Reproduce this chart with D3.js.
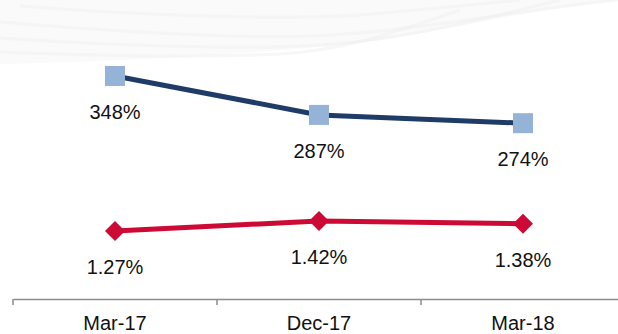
<!DOCTYPE html>
<html>
<head>
<meta charset="utf-8">
<script src="https://cdn.jsdelivr.net/npm/d3@7/dist/d3.min.js"></script>
<style>
  html, body { margin: 0; padding: 0; background: #fff; }
  svg { display: block; }
  text { font-family: "Liberation Sans", Arial, sans-serif; }
</style>
</head>
<body>
<script>
const categories = ["Mar-17", "Dec-17", "Mar-18"];
const blueValues = [348, 287, 274];
const blueLabels = ["348%", "287%", "274%"];
const redValues = [1.27, 1.42, 1.38];
const redLabels = ["1.27%", "1.42%", "1.38%"];

const W = 618, H = 334;
const svg = d3.select("body").append("svg").attr("width", W).attr("height", H);

// faint decorative swoosh background
const bg = svg.append("g");
bg.append("path")
  .attr("d", "M0,0 L618,0 C520,10 420,38 330,46 C220,56 100,62 0,64 Z")
  .attr("fill", "#f6f6f6").attr("fill-opacity", 0.6);
const swooshes = [
  "M0,22 C120,32 250,40 330,35 C420,30 520,10 618,0",
  "M0,38 C120,46 250,50 320,45 C400,40 480,20 560,0",
  "M0,52 C100,56 200,58 280,54 C350,50 400,30 460,10",
  "M20,6 C150,16 280,20 360,15 C420,10 470,5 520,0"
];
swooshes.forEach((d, i) => {
  bg.append("path").attr("d", d).attr("fill", "none")
    .attr("stroke", "#efefef").attr("stroke-width", 3)
    .attr("stroke-opacity", 0.5);
});

const x = d3.scaleBand().domain(categories).range([13, 625]);
const yBlue = d3.scaleLinear().domain([0, 400]).range([298, 42.8]);
const yRed = d3.scaleLinear().domain([1.0, 2.0]).range([249, 182.3]);

// axis
const axis = d3.axisBottom(x).tickSize(0).tickFormat("");
const ax = svg.append("g").attr("transform", "translate(0,299)").call(axis);
ax.select(".domain").attr("stroke", "#8c8c8c").attr("stroke-width", 1.5);
const bounds = categories.map(c => x(c));
svg.append("g").selectAll("line").data(bounds).join("line")
  .attr("x1", d => d).attr("x2", d => d)
  .attr("y1", 299).attr("y2", 305)
  .attr("stroke", "#8c8c8c").attr("stroke-width", 1.5);
svg.append("g").selectAll("text").data(categories).join("text")
  .attr("x", d => x(d) + x.bandwidth() / 2)
  .attr("y", 330)
  .attr("text-anchor", "middle")
  .attr("font-size", "20px")
  .attr("fill", "#111")
  .text(d => d);

const cx = d => x(d) + x.bandwidth() / 2;

// blue series
const blueData = categories.map((c, i) => ({c, v: blueValues[i], l: blueLabels[i]}));
svg.append("path").datum(blueData)
  .attr("fill", "none").attr("stroke", "#1f3b68").attr("stroke-width", 5)
  .attr("d", d3.line().x(d => cx(d.c)).y(d => yBlue(d.v)));
svg.append("g").selectAll("rect").data(blueData).join("rect")
  .attr("x", d => cx(d.c) - 10).attr("y", d => yBlue(d.v) - 10)
  .attr("width", 20).attr("height", 20)
  .attr("fill", "#95b3d7");
svg.append("g").selectAll("text").data(blueData).join("text")
  .attr("x", d => cx(d.c)).attr("y", d => yBlue(d.v) + 43)
  .attr("text-anchor", "middle").attr("font-size", "20px").attr("fill", "#111")
  .text(d => d.l);

// red series
const redData = categories.map((c, i) => ({c, v: redValues[i], l: redLabels[i]}));
svg.append("path").datum(redData)
  .attr("fill", "none").attr("stroke", "#cc0a35").attr("stroke-width", 5)
  .attr("d", d3.line().x(d => cx(d.c)).y(d => yRed(d.v)));
svg.append("g").selectAll("path").data(redData).join("path")
  .attr("transform", d => `translate(${cx(d.c)},${yRed(d.v)})`)
  .attr("d", "M0,-10 L10,0 L0,10 L-10,0 Z")
  .attr("fill", "#cc0a35");
svg.append("g").selectAll("text").data(redData).join("text")
  .attr("x", d => cx(d.c)).attr("y", d => yRed(d.v) + 43)
  .attr("text-anchor", "middle").attr("font-size", "20px").attr("fill", "#111")
  .text(d => d.l);
</script>
</body>
</html>
